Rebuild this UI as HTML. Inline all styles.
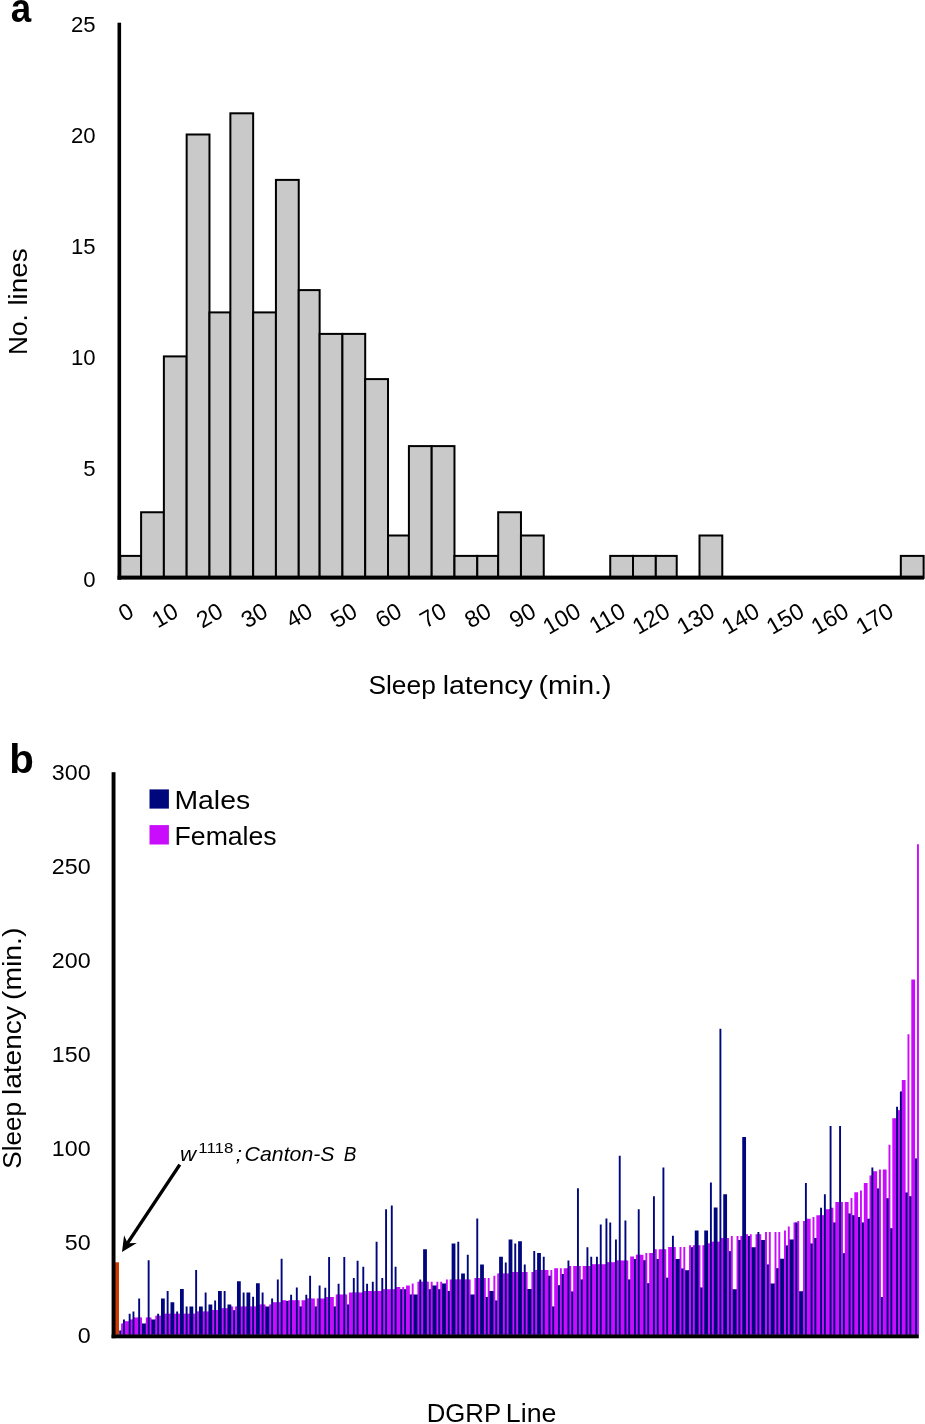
<!DOCTYPE html>
<html><head><meta charset="utf-8"><title>Figure</title>
<style>html,body{margin:0;padding:0;background:#fff;}body{width:925px;height:1424px;overflow:hidden;}svg{display:block;will-change:transform;}text{font-family:"Liberation Sans",sans-serif;fill:#000;}</style>
</head><body>
<svg width="925" height="1424" viewBox="0 0 925 1424">
<rect x="0" y="0" width="925" height="1424" fill="#ffffff"/>
<g id="panel-a">
<rect x="120.20" y="555.90" width="20.90" height="22.00" fill="#c9c9c9" stroke="#000" stroke-width="2"/>
<rect x="141.10" y="512.25" width="22.78" height="65.65" fill="#c9c9c9" stroke="#000" stroke-width="2"/>
<rect x="163.88" y="356.40" width="22.78" height="221.50" fill="#c9c9c9" stroke="#000" stroke-width="2"/>
<rect x="186.66" y="134.50" width="22.81" height="443.40" fill="#c9c9c9" stroke="#000" stroke-width="2"/>
<rect x="209.47" y="312.40" width="20.90" height="265.50" fill="#c9c9c9" stroke="#000" stroke-width="2"/>
<rect x="230.37" y="113.30" width="22.78" height="464.60" fill="#c9c9c9" stroke="#000" stroke-width="2"/>
<rect x="253.15" y="312.40" width="22.78" height="265.50" fill="#c9c9c9" stroke="#000" stroke-width="2"/>
<rect x="275.93" y="179.90" width="22.81" height="398.00" fill="#c9c9c9" stroke="#000" stroke-width="2"/>
<rect x="298.74" y="290.10" width="20.90" height="287.80" fill="#c9c9c9" stroke="#000" stroke-width="2"/>
<rect x="319.64" y="333.90" width="22.78" height="244.00" fill="#c9c9c9" stroke="#000" stroke-width="2"/>
<rect x="342.42" y="333.90" width="22.78" height="244.00" fill="#c9c9c9" stroke="#000" stroke-width="2"/>
<rect x="365.20" y="379.10" width="22.81" height="198.80" fill="#c9c9c9" stroke="#000" stroke-width="2"/>
<rect x="388.01" y="535.50" width="20.90" height="42.40" fill="#c9c9c9" stroke="#000" stroke-width="2"/>
<rect x="408.91" y="446.10" width="22.78" height="131.80" fill="#c9c9c9" stroke="#000" stroke-width="2"/>
<rect x="431.69" y="446.10" width="22.78" height="131.80" fill="#c9c9c9" stroke="#000" stroke-width="2"/>
<rect x="454.47" y="555.90" width="22.81" height="22.00" fill="#c9c9c9" stroke="#000" stroke-width="2"/>
<rect x="477.28" y="555.90" width="20.90" height="22.00" fill="#c9c9c9" stroke="#000" stroke-width="2"/>
<rect x="498.18" y="512.25" width="22.78" height="65.65" fill="#c9c9c9" stroke="#000" stroke-width="2"/>
<rect x="520.96" y="535.50" width="22.78" height="42.40" fill="#c9c9c9" stroke="#000" stroke-width="2"/>
<rect x="610.23" y="555.90" width="22.78" height="22.00" fill="#c9c9c9" stroke="#000" stroke-width="2"/>
<rect x="633.01" y="555.90" width="22.81" height="22.00" fill="#c9c9c9" stroke="#000" stroke-width="2"/>
<rect x="655.82" y="555.90" width="20.90" height="22.00" fill="#c9c9c9" stroke="#000" stroke-width="2"/>
<rect x="699.50" y="535.50" width="22.78" height="42.40" fill="#c9c9c9" stroke="#000" stroke-width="2"/>
<rect x="900.82" y="555.90" width="22.81" height="22.00" fill="#c9c9c9" stroke="#000" stroke-width="2"/>
<rect x="117.5" y="22.7" width="3.6" height="557" fill="#000"/>
<rect x="117.5" y="575.6" width="806.5" height="4" fill="#000"/>
<text transform="translate(95.6,587.1) scale(0.99,1)" font-size="22.4" text-anchor="end">0</text>
<text transform="translate(95.6,476.2) scale(0.99,1)" font-size="22.4" text-anchor="end">5</text>
<text transform="translate(95.6,365.2) scale(0.99,1)" font-size="22.4" text-anchor="end">10</text>
<text transform="translate(95.6,254.3) scale(0.99,1)" font-size="22.4" text-anchor="end">15</text>
<text transform="translate(95.6,143.3) scale(0.99,1)" font-size="22.4" text-anchor="end">20</text>
<text transform="translate(95.6,32.4) scale(0.99,1)" font-size="22.4" text-anchor="end">25</text>
<text transform="translate(135.4,615.8) rotate(-30)" font-size="23.3" text-anchor="end">0</text>
<text transform="translate(180.1,615.8) rotate(-30)" font-size="23.3" text-anchor="end">10</text>
<text transform="translate(224.8,615.8) rotate(-30)" font-size="23.3" text-anchor="end">20</text>
<text transform="translate(269.5,615.8) rotate(-30)" font-size="23.3" text-anchor="end">30</text>
<text transform="translate(314.2,615.8) rotate(-30)" font-size="23.3" text-anchor="end">40</text>
<text transform="translate(358.9,615.8) rotate(-30)" font-size="23.3" text-anchor="end">50</text>
<text transform="translate(403.6,615.8) rotate(-30)" font-size="23.3" text-anchor="end">60</text>
<text transform="translate(448.3,615.8) rotate(-30)" font-size="23.3" text-anchor="end">70</text>
<text transform="translate(493.0,615.8) rotate(-30)" font-size="23.3" text-anchor="end">80</text>
<text transform="translate(537.7,615.8) rotate(-30)" font-size="23.3" text-anchor="end">90</text>
<text transform="translate(582.4,615.8) rotate(-30)" font-size="23.3" text-anchor="end">100</text>
<text transform="translate(627.1,615.8) rotate(-30)" font-size="23.3" text-anchor="end">110</text>
<text transform="translate(671.8,615.8) rotate(-30)" font-size="23.3" text-anchor="end">120</text>
<text transform="translate(716.5,615.8) rotate(-30)" font-size="23.3" text-anchor="end">130</text>
<text transform="translate(761.2,615.8) rotate(-30)" font-size="23.3" text-anchor="end">140</text>
<text transform="translate(805.9,615.8) rotate(-30)" font-size="23.3" text-anchor="end">150</text>
<text transform="translate(850.6,615.8) rotate(-30)" font-size="23.3" text-anchor="end">160</text>
<text transform="translate(895.3,615.8) rotate(-30)" font-size="23.3" text-anchor="end">170</text>
<text transform="translate(368.48,694.40) scale(1.0526,1)" font-size="25">Sleep</text>
<text transform="translate(442.71,694.40) scale(1.1366,1)" font-size="25">latency</text>
<text transform="translate(538.59,694.40) scale(1.1407,1)" font-size="25">(min.)</text>
<g transform="translate(26.5,352.7) rotate(-90)"><text transform="translate(-2.27,0.00) scale(1.0070,1)" font-size="26">No.</text><text transform="translate(47.12,0.00) scale(1.0739,1)" font-size="26">lines</text></g>
<text transform="translate(10.78,21.60) scale(0.8966,1)" font-size="41" font-weight="bold">a</text>
</g>
<g id="panel-b">
<path fill="#ca0cfd" d="M120.50 1334.8v-4.3h1.2v4.3zM122.40 1334.8v-11.3h1.2v11.3zM124.30 1334.8v-13.5h1.2v13.5zM128.10 1334.8v-13.5h1.2v13.5zM130.00 1334.8v-15.2h1.2v15.2zM131.90 1334.8v-15.2h1.2v15.2zM133.80 1334.8v-17.3h1.2v17.3zM137.60 1334.8v-17.3h1.2v17.3zM139.49 1334.8v-17.3h1.2v17.3zM141.39 1334.8v-11.3h1.2v11.3zM145.19 1334.8v-11.3h1.2v11.3zM147.09 1334.8v-17.3h1.2v17.3zM148.99 1334.8v-17.3h1.2v17.3zM150.89 1334.8v-15.2h1.2v15.2zM154.69 1334.8v-15.2h1.2v15.2zM156.59 1334.8v-19.0h1.2v19.0zM158.49 1334.8v-19.0h1.2v19.0zM160.39 1334.8v-19.0h1.2v19.0zM164.19 1334.8v-21.0h1.2v21.0zM166.09 1334.8v-21.0h1.2v21.0zM167.99 1334.8v-21.0h1.2v21.0zM169.89 1334.8v-21.0h1.2v21.0zM173.69 1334.8v-21.0h1.2v21.0zM175.59 1334.8v-21.0h1.2v21.0zM177.49 1334.8v-21.0h1.2v21.0zM179.38 1334.8v-21.0h1.2v21.0zM183.18 1334.8v-21.0h1.2v21.0zM185.08 1334.8v-21.0h1.2v21.0zM186.98 1334.8v-21.0h1.2v21.0zM188.88 1334.8v-21.0h1.2v21.0zM192.68 1334.8v-21.0h1.2v21.0zM194.58 1334.8v-21.0h1.2v21.0zM196.48 1334.8v-23.3h1.2v23.3zM198.38 1334.8v-23.3h1.2v23.3zM202.18 1334.8v-23.3h1.2v23.3zM204.08 1334.8v-23.3h1.2v23.3zM205.98 1334.8v-23.3h1.2v23.3zM207.88 1334.8v-23.3h1.2v23.3zM211.68 1334.8v-24.8h1.2v24.8zM213.58 1334.8v-24.8h1.2v24.8zM215.48 1334.8v-24.8h1.2v24.8zM217.38 1334.8v-24.8h1.2v24.8zM221.17 1334.8v-26.5h1.2v26.5zM223.07 1334.8v-26.5h1.2v26.5zM224.97 1334.8v-26.5h1.2v26.5zM226.87 1334.8v-26.5h1.2v26.5zM230.67 1334.8v-28.3h1.2v28.3zM232.57 1334.8v-24.6h1.2v24.6zM234.47 1334.8v-24.6h1.2v24.6zM236.37 1334.8v-28.3h1.2v28.3zM240.17 1334.8v-28.3h1.2v28.3zM242.07 1334.8v-28.3h1.2v28.3zM243.97 1334.8v-28.3h1.2v28.3zM245.87 1334.8v-28.3h1.2v28.3zM249.67 1334.8v-28.3h1.2v28.3zM251.57 1334.8v-28.3h1.2v28.3zM253.47 1334.8v-28.3h1.2v28.3zM255.37 1334.8v-28.3h1.2v28.3zM259.16 1334.8v-30.2h1.2v30.2zM261.06 1334.8v-30.2h1.2v30.2zM262.96 1334.8v-30.2h1.2v30.2zM264.86 1334.8v-28.3h1.2v28.3zM268.66 1334.8v-28.3h1.2v28.3zM270.56 1334.8v-30.2h1.2v30.2zM272.46 1334.8v-32.5h1.2v32.5zM276.26 1334.8v-32.5h1.2v32.5zM278.16 1334.8v-32.5h1.2v32.5zM280.06 1334.8v-32.5h1.2v32.5zM281.96 1334.8v-34.5h1.2v34.5zM285.76 1334.8v-33.8h1.2v33.8zM287.66 1334.8v-33.8h1.2v33.8zM289.56 1334.8v-34.5h1.2v34.5zM291.46 1334.8v-34.5h1.2v34.5zM295.26 1334.8v-34.5h1.2v34.5zM297.16 1334.8v-34.5h1.2v34.5zM299.05 1334.8v-28.3h1.2v28.3zM300.95 1334.8v-28.3h1.2v28.3zM304.75 1334.8v-34.5h1.2v34.5zM306.65 1334.8v-36.2h1.2v36.2zM308.55 1334.8v-36.2h1.2v36.2zM310.45 1334.8v-36.4h1.2v36.4zM314.25 1334.8v-28.2h1.2v28.2zM316.15 1334.8v-28.2h1.2v28.2zM318.05 1334.8v-36.4h1.2v36.4zM319.95 1334.8v-36.4h1.2v36.4zM323.75 1334.8v-36.4h1.2v36.4zM325.65 1334.8v-37.9h1.2v37.9zM327.55 1334.8v-37.9h1.2v37.9zM329.45 1334.8v-37.9h1.2v37.9zM333.25 1334.8v-28.2h1.2v28.2zM335.15 1334.8v-28.2h1.2v28.2zM337.05 1334.8v-40.2h1.2v40.2zM338.94 1334.8v-40.2h1.2v40.2zM342.74 1334.8v-40.2h1.2v40.2zM344.64 1334.8v-40.2h1.2v40.2zM346.54 1334.8v-30.2h1.2v30.2zM348.44 1334.8v-30.2h1.2v30.2zM352.24 1334.8v-42.2h1.2v42.2zM354.14 1334.8v-42.2h1.2v42.2zM356.04 1334.8v-42.2h1.2v42.2zM357.94 1334.8v-42.2h1.2v42.2zM361.74 1334.8v-42.2h1.2v42.2zM363.64 1334.8v-43.9h1.2v43.9zM365.54 1334.8v-43.9h1.2v43.9zM367.44 1334.8v-43.9h1.2v43.9zM371.24 1334.8v-43.9h1.2v43.9zM373.14 1334.8v-43.9h1.2v43.9zM375.04 1334.8v-43.9h1.2v43.9zM376.94 1334.8v-43.9h1.2v43.9zM380.73 1334.8v-43.9h1.2v43.9zM382.63 1334.8v-45.6h1.2v45.6zM384.53 1334.8v-45.6h1.2v45.6zM386.43 1334.8v-45.6h1.2v45.6zM390.23 1334.8v-45.6h1.2v45.6zM392.13 1334.8v-45.6h1.2v45.6zM394.03 1334.8v-45.6h1.2v45.6zM395.93 1334.8v-47.7h1.2v47.7zM399.73 1334.8v-45.6h1.2v45.6zM401.63 1334.8v-45.6h1.2v45.6zM403.53 1334.8v-45.6h1.2v45.6zM405.43 1334.8v-45.6h1.2v45.6zM409.23 1334.8v-40.2h1.2v40.2zM411.13 1334.8v-40.2h1.2v40.2zM413.03 1334.8v-40.2h1.2v40.2zM416.83 1334.8v-40.2h1.2v40.2zM418.72 1334.8v-53.1h1.2v53.1zM420.62 1334.8v-53.1h1.2v53.1zM422.52 1334.8v-53.1h1.2v53.1zM426.32 1334.8v-53.1h1.2v53.1zM428.22 1334.8v-45.6h1.2v45.6zM430.12 1334.8v-45.6h1.2v45.6zM432.02 1334.8v-49.4h1.2v49.4zM435.82 1334.8v-49.4h1.2v49.4zM437.72 1334.8v-45.6h1.2v45.6zM439.62 1334.8v-45.6h1.2v45.6zM441.52 1334.8v-51.4h1.2v51.4zM445.32 1334.8v-51.4h1.2v51.4zM447.22 1334.8v-43.9h1.2v43.9zM449.12 1334.8v-43.9h1.2v43.9zM451.02 1334.8v-55.2h1.2v55.2zM454.82 1334.8v-55.2h1.2v55.2zM456.72 1334.8v-55.2h1.2v55.2zM458.61 1334.8v-55.2h1.2v55.2zM460.51 1334.8v-55.2h1.2v55.2zM464.31 1334.8v-55.2h1.2v55.2zM466.21 1334.8v-55.2h1.2v55.2zM468.11 1334.8v-55.2h1.2v55.2zM470.01 1334.8v-40.2h1.2v40.2zM473.81 1334.8v-40.2h1.2v40.2zM475.71 1334.8v-56.9h1.2v56.9zM477.61 1334.8v-56.9h1.2v56.9zM479.51 1334.8v-56.9h1.2v56.9zM483.31 1334.8v-56.9h1.2v56.9zM485.21 1334.8v-37.9h1.2v37.9zM487.11 1334.8v-37.9h1.2v37.9zM489.01 1334.8v-43.7h1.2v43.7zM492.81 1334.8v-43.7h1.2v43.7zM494.71 1334.8v-34.2h1.2v34.2zM496.61 1334.8v-34.2h1.2v34.2zM498.50 1334.8v-61.2h1.2v61.2zM502.30 1334.8v-61.2h1.2v61.2zM504.20 1334.8v-61.2h1.2v61.2zM506.10 1334.8v-61.2h1.2v61.2zM508.00 1334.8v-61.2h1.2v61.2zM511.80 1334.8v-62.7h1.2v62.7zM513.70 1334.8v-62.7h1.2v62.7zM515.60 1334.8v-62.7h1.2v62.7zM517.50 1334.8v-62.7h1.2v62.7zM521.30 1334.8v-62.7h1.2v62.7zM523.20 1334.8v-62.7h1.2v62.7zM525.10 1334.8v-62.7h1.2v62.7zM527.00 1334.8v-45.8h1.2v45.8zM530.80 1334.8v-45.8h1.2v45.8zM532.70 1334.8v-62.7h1.2v62.7zM534.60 1334.8v-64.8h1.2v64.8zM536.50 1334.8v-64.8h1.2v64.8zM540.29 1334.8v-64.8h1.2v64.8zM542.19 1334.8v-64.8h1.2v64.8zM544.09 1334.8v-64.8h1.2v64.8zM547.89 1334.8v-59.1h1.2v59.1zM549.79 1334.8v-59.1h1.2v59.1zM551.69 1334.8v-28.2h1.2v28.2zM553.59 1334.8v-28.2h1.2v28.2zM557.39 1334.8v-49.6h1.2v49.6zM559.29 1334.8v-49.6h1.2v49.6zM561.19 1334.8v-60.8h1.2v60.8zM563.09 1334.8v-60.8h1.2v60.8zM566.89 1334.8v-66.6h1.2v66.6zM568.79 1334.8v-68.7h1.2v68.7zM570.69 1334.8v-43.4h1.2v43.4zM572.59 1334.8v-43.4h1.2v43.4zM576.39 1334.8v-68.7h1.2v68.7zM578.29 1334.8v-68.7h1.2v68.7zM580.18 1334.8v-55.2h1.2v55.2zM582.08 1334.8v-55.2h1.2v55.2zM585.88 1334.8v-68.7h1.2v68.7zM587.78 1334.8v-68.7h1.2v68.7zM589.68 1334.8v-68.7h1.2v68.7zM591.58 1334.8v-70.6h1.2v70.6zM595.38 1334.8v-70.6h1.2v70.6zM597.28 1334.8v-70.6h1.2v70.6zM599.18 1334.8v-70.6h1.2v70.6zM601.08 1334.8v-70.6h1.2v70.6zM604.88 1334.8v-70.6h1.2v70.6zM606.78 1334.8v-72.5h1.2v72.5zM608.68 1334.8v-72.5h1.2v72.5zM610.58 1334.8v-72.5h1.2v72.5zM614.38 1334.8v-72.5h1.2v72.5zM616.28 1334.8v-74.3h1.2v74.3zM618.18 1334.8v-74.3h1.2v74.3zM620.07 1334.8v-74.3h1.2v74.3zM623.87 1334.8v-74.3h1.2v74.3zM625.77 1334.8v-74.3h1.2v74.3zM627.67 1334.8v-55.4h1.2v55.4zM629.57 1334.8v-55.4h1.2v55.4zM633.37 1334.8v-75.8h1.2v75.8zM635.27 1334.8v-75.8h1.2v75.8zM637.17 1334.8v-80.1h1.2v80.1zM639.07 1334.8v-80.1h1.2v80.1zM642.87 1334.8v-74.5h1.2v74.5zM644.77 1334.8v-74.5h1.2v74.5zM646.67 1334.8v-51.6h1.2v51.6zM648.57 1334.8v-51.6h1.2v51.6zM652.37 1334.8v-81.8h1.2v81.8zM654.27 1334.8v-85.6h1.2v85.6zM656.17 1334.8v-75.8h1.2v75.8zM658.07 1334.8v-75.8h1.2v75.8zM661.86 1334.8v-85.6h1.2v85.6zM663.76 1334.8v-85.6h1.2v85.6zM665.66 1334.8v-57.1h1.2v57.1zM667.56 1334.8v-57.1h1.2v57.1zM671.36 1334.8v-87.7h1.2v87.7zM673.26 1334.8v-87.7h1.2v87.7zM675.16 1334.8v-75.8h1.2v75.8zM678.96 1334.8v-75.8h1.2v75.8zM680.86 1334.8v-66.4h1.2v66.4zM682.76 1334.8v-66.4h1.2v66.4zM684.66 1334.8v-64.6h1.2v64.6zM688.46 1334.8v-64.6h1.2v64.6zM690.36 1334.8v-87.5h1.2v87.5zM692.26 1334.8v-87.5h1.2v87.5zM694.16 1334.8v-89.5h1.2v89.5zM697.96 1334.8v-89.5h1.2v89.5zM699.85 1334.8v-47.3h1.2v47.3zM701.75 1334.8v-47.3h1.2v47.3zM703.65 1334.8v-89.5h1.2v89.5zM707.45 1334.8v-91.2h1.2v91.2zM709.35 1334.8v-91.2h1.2v91.2zM711.25 1334.8v-93.1h1.2v93.1zM713.15 1334.8v-93.1h1.2v93.1zM716.95 1334.8v-93.1h1.2v93.1zM718.85 1334.8v-93.1h1.2v93.1zM720.75 1334.8v-96.9h1.2v96.9zM722.65 1334.8v-96.9h1.2v96.9zM726.45 1334.8v-96.9h1.2v96.9zM728.35 1334.8v-83.5h1.2v83.5zM730.25 1334.8v-83.5h1.2v83.5zM732.15 1334.8v-45.6h1.2v45.6zM735.95 1334.8v-45.6h1.2v45.6zM737.85 1334.8v-94.8h1.2v94.8zM739.74 1334.8v-94.8h1.2v94.8zM741.64 1334.8v-98.7h1.2v98.7zM745.44 1334.8v-100.6h1.2v100.6zM747.34 1334.8v-98.7h1.2v98.7zM749.24 1334.8v-98.7h1.2v98.7zM751.14 1334.8v-87.5h1.2v87.5zM754.94 1334.8v-87.5h1.2v87.5zM756.84 1334.8v-100.6h1.2v100.6zM758.74 1334.8v-100.6h1.2v100.6zM760.64 1334.8v-94.8h1.2v94.8zM764.44 1334.8v-94.8h1.2v94.8zM766.34 1334.8v-70.2h1.2v70.2zM768.24 1334.8v-70.2h1.2v70.2zM770.14 1334.8v-51.4h1.2v51.4zM773.94 1334.8v-51.4h1.2v51.4zM775.84 1334.8v-66.6h1.2v66.6zM777.74 1334.8v-66.6h1.2v66.6zM779.63 1334.8v-76.0h1.2v76.0zM783.43 1334.8v-76.0h1.2v76.0zM785.33 1334.8v-89.3h1.2v89.3zM787.23 1334.8v-89.3h1.2v89.3zM789.13 1334.8v-95.4h1.2v95.4zM792.93 1334.8v-95.4h1.2v95.4zM794.83 1334.8v-112.2h1.2v112.2zM796.73 1334.8v-112.2h1.2v112.2zM798.63 1334.8v-43.5h1.2v43.5zM802.43 1334.8v-43.5h1.2v43.5zM804.33 1334.8v-113.9h1.2v113.9zM806.23 1334.8v-116.0h1.2v116.0zM810.03 1334.8v-91.2h1.2v91.2zM811.93 1334.8v-91.2h1.2v91.2zM813.83 1334.8v-96.9h1.2v96.9zM815.73 1334.8v-96.9h1.2v96.9zM819.52 1334.8v-119.6h1.2v119.6zM821.42 1334.8v-119.6h1.2v119.6zM823.32 1334.8v-119.6h1.2v119.6zM825.22 1334.8v-125.6h1.2v125.6zM829.02 1334.8v-125.6h1.2v125.6zM830.92 1334.8v-127.1h1.2v127.1zM832.82 1334.8v-112.2h1.2v112.2zM834.72 1334.8v-112.2h1.2v112.2zM838.52 1334.8v-132.9h1.2v132.9zM840.42 1334.8v-132.9h1.2v132.9zM842.32 1334.8v-81.6h1.2v81.6zM844.22 1334.8v-81.6h1.2v81.6zM848.02 1334.8v-121.4h1.2v121.4zM849.92 1334.8v-121.4h1.2v121.4zM851.82 1334.8v-119.6h1.2v119.6zM853.72 1334.8v-119.6h1.2v119.6zM857.52 1334.8v-117.9h1.2v117.9zM859.41 1334.8v-117.9h1.2v117.9zM861.31 1334.8v-112.2h1.2v112.2zM863.21 1334.8v-112.2h1.2v112.2zM867.01 1334.8v-116.0h1.2v116.0zM868.91 1334.8v-116.0h1.2v116.0zM870.81 1334.8v-159.4h1.2v159.4zM872.71 1334.8v-163.5h1.2v163.5zM876.51 1334.8v-146.2h1.2v146.2zM878.41 1334.8v-146.2h1.2v146.2zM880.31 1334.8v-37.9h1.2v37.9zM882.21 1334.8v-37.9h1.2v37.9zM886.01 1334.8v-136.6h1.2v136.6zM887.91 1334.8v-136.6h1.2v136.6zM889.81 1334.8v-106.6h1.2v106.6zM891.71 1334.8v-106.6h1.2v106.6zM895.51 1334.8v-216.6h1.2v216.6zM897.41 1334.8v-224.5h1.2v224.5zM899.30 1334.8v-224.5h1.2v224.5zM901.20 1334.8v-243.3h1.2v243.3zM905.00 1334.8v-142.3h1.2v142.3zM906.90 1334.8v-142.3h1.2v142.3zM908.80 1334.8v-138.5h1.2v138.5zM910.70 1334.8v-138.5h1.2v138.5zM914.50 1334.8v-176.4h1.2v176.4zM916.40 1334.8v-176.4h1.2v176.4z"/>
<path fill="#ca0cfd" d="M121.10 1334.8v-11.3h1.90v11.3zM124.90 1334.8v-13.5h3.80v13.5zM130.60 1334.8v-15.2h1.90v15.2zM134.40 1334.8v-17.3h3.80v17.3zM140.09 1334.8v-17.3h1.90v17.3zM145.79 1334.8v-17.3h1.90v17.3zM149.59 1334.8v-17.3h1.90v17.3zM155.29 1334.8v-19.0h1.90v19.0zM159.09 1334.8v-19.0h1.90v19.0zM164.79 1334.8v-21.0h1.90v21.0zM168.59 1334.8v-21.0h1.90v21.0zM174.29 1334.8v-21.0h1.90v21.0zM178.09 1334.8v-21.0h1.90v21.0zM183.78 1334.8v-21.0h1.90v21.0zM187.58 1334.8v-21.0h1.90v21.0zM193.28 1334.8v-21.0h1.90v21.0zM197.08 1334.8v-23.3h1.90v23.3zM202.78 1334.8v-23.3h1.90v23.3zM206.58 1334.8v-23.3h1.90v23.3zM212.28 1334.8v-24.8h1.90v24.8zM216.08 1334.8v-24.8h1.90v24.8zM221.77 1334.8v-26.5h1.90v26.5zM225.57 1334.8v-26.5h1.90v26.5zM231.27 1334.8v-28.3h1.90v28.3zM235.07 1334.8v-28.3h1.90v28.3zM240.77 1334.8v-28.3h1.90v28.3zM244.57 1334.8v-28.3h1.90v28.3zM250.27 1334.8v-28.3h1.90v28.3zM254.07 1334.8v-28.3h1.90v28.3zM259.76 1334.8v-30.2h1.90v30.2zM263.56 1334.8v-30.2h1.90v30.2zM269.26 1334.8v-30.2h1.90v30.2zM273.06 1334.8v-32.5h3.80v32.5zM278.76 1334.8v-32.5h1.90v32.5zM282.56 1334.8v-34.5h3.80v34.5zM288.26 1334.8v-34.5h1.90v34.5zM292.06 1334.8v-34.5h3.80v34.5zM297.76 1334.8v-34.5h1.90v34.5zM301.55 1334.8v-34.5h3.80v34.5zM307.25 1334.8v-36.2h1.90v36.2zM311.05 1334.8v-36.4h3.80v36.4zM316.75 1334.8v-36.4h1.90v36.4zM320.55 1334.8v-36.4h3.80v36.4zM326.25 1334.8v-37.9h1.90v37.9zM330.05 1334.8v-37.9h3.80v37.9zM335.75 1334.8v-40.2h1.90v40.2zM339.54 1334.8v-40.2h3.80v40.2zM345.24 1334.8v-40.2h1.90v40.2zM349.04 1334.8v-42.2h3.80v42.2zM354.74 1334.8v-42.2h1.90v42.2zM358.54 1334.8v-42.2h3.80v42.2zM364.24 1334.8v-43.9h1.90v43.9zM368.04 1334.8v-43.9h3.80v43.9zM373.74 1334.8v-43.9h1.90v43.9zM377.54 1334.8v-43.9h3.80v43.9zM383.23 1334.8v-45.6h1.90v45.6zM387.03 1334.8v-45.6h3.80v45.6zM392.73 1334.8v-45.6h1.90v45.6zM396.53 1334.8v-47.7h3.80v47.7zM402.23 1334.8v-47.7h1.90v47.7zM406.03 1334.8v-49.4h3.80v49.4zM411.73 1334.8v-51.4h1.90v51.4zM417.43 1334.8v-53.1h1.90v53.1zM421.22 1334.8v-53.1h1.90v53.1zM426.92 1334.8v-53.1h1.90v53.1zM430.72 1334.8v-53.1h1.90v53.1zM436.42 1334.8v-53.1h1.90v53.1zM440.22 1334.8v-53.1h1.90v53.1zM445.92 1334.8v-55.2h1.90v55.2zM449.72 1334.8v-55.2h1.90v55.2zM455.42 1334.8v-55.2h1.90v55.2zM459.21 1334.8v-55.2h1.90v55.2zM464.91 1334.8v-55.2h1.90v55.2zM468.71 1334.8v-55.2h1.90v55.2zM474.41 1334.8v-56.9h1.90v56.9zM478.21 1334.8v-56.9h1.90v56.9zM483.91 1334.8v-56.9h1.90v56.9zM487.71 1334.8v-56.9h1.90v56.9zM493.41 1334.8v-59.1h1.90v59.1zM497.21 1334.8v-61.2h1.90v61.2zM502.90 1334.8v-61.2h1.90v61.2zM506.70 1334.8v-61.2h1.90v61.2zM512.40 1334.8v-62.7h1.90v62.7zM516.20 1334.8v-62.7h1.90v62.7zM521.90 1334.8v-62.7h1.90v62.7zM525.70 1334.8v-62.7h1.90v62.7zM531.40 1334.8v-62.7h1.90v62.7zM535.20 1334.8v-64.8h1.90v64.8zM540.89 1334.8v-64.8h1.90v64.8zM544.69 1334.8v-64.8h3.80v64.8zM550.39 1334.8v-64.8h1.90v64.8zM554.19 1334.8v-66.6h3.80v66.6zM559.89 1334.8v-66.6h1.90v66.6zM563.69 1334.8v-66.6h3.80v66.6zM569.39 1334.8v-68.7h1.90v68.7zM573.19 1334.8v-68.7h3.80v68.7zM578.89 1334.8v-68.7h1.90v68.7zM582.68 1334.8v-68.7h3.80v68.7zM588.38 1334.8v-68.7h1.90v68.7zM592.18 1334.8v-70.6h3.80v70.6zM597.88 1334.8v-70.6h1.90v70.6zM601.68 1334.8v-70.6h3.80v70.6zM607.38 1334.8v-72.5h1.90v72.5zM611.18 1334.8v-72.5h3.80v72.5zM616.88 1334.8v-74.3h1.90v74.3zM620.67 1334.8v-74.3h3.80v74.3zM626.37 1334.8v-74.3h1.90v74.3zM630.17 1334.8v-78.3h3.80v78.3zM635.87 1334.8v-80.1h1.90v80.1zM639.67 1334.8v-80.1h3.80v80.1zM645.37 1334.8v-81.8h1.90v81.8zM649.17 1334.8v-81.8h3.80v81.8zM654.87 1334.8v-85.6h1.90v85.6zM658.67 1334.8v-85.6h3.80v85.6zM664.36 1334.8v-85.6h1.90v85.6zM668.16 1334.8v-87.7h3.80v87.7zM673.86 1334.8v-87.7h1.90v87.7zM679.56 1334.8v-87.7h1.90v87.7zM683.36 1334.8v-87.7h1.90v87.7zM689.06 1334.8v-89.5h1.90v89.5zM692.86 1334.8v-89.5h1.90v89.5zM698.56 1334.8v-89.5h1.90v89.5zM702.35 1334.8v-89.5h1.90v89.5zM708.05 1334.8v-91.2h1.90v91.2zM711.85 1334.8v-93.1h1.90v93.1zM717.55 1334.8v-93.1h1.90v93.1zM721.35 1334.8v-96.9h1.90v96.9zM727.05 1334.8v-96.9h1.90v96.9zM730.85 1334.8v-98.7h1.90v98.7zM736.55 1334.8v-98.7h1.90v98.7zM740.34 1334.8v-98.7h1.90v98.7zM746.04 1334.8v-100.6h1.90v100.6zM749.84 1334.8v-100.6h1.90v100.6zM755.54 1334.8v-100.6h1.90v100.6zM759.34 1334.8v-100.6h1.90v100.6zM765.04 1334.8v-102.7h1.90v102.7zM768.84 1334.8v-102.7h1.90v102.7zM774.54 1334.8v-102.7h1.90v102.7zM778.34 1334.8v-102.7h1.90v102.7zM784.03 1334.8v-104.4h1.90v104.4zM787.83 1334.8v-108.3h1.90v108.3zM793.53 1334.8v-112.2h1.90v112.2zM797.33 1334.8v-113.9h1.90v113.9zM803.03 1334.8v-113.9h1.90v113.9zM806.83 1334.8v-116.0h3.80v116.0zM812.53 1334.8v-117.9h1.90v117.9zM816.33 1334.8v-119.6h3.80v119.6zM822.02 1334.8v-119.6h1.90v119.6zM825.82 1334.8v-125.6h3.80v125.6zM831.52 1334.8v-127.1h1.90v127.1zM835.32 1334.8v-132.9h3.80v132.9zM841.02 1334.8v-132.9h1.90v132.9zM844.82 1334.8v-132.9h3.80v132.9zM850.52 1334.8v-136.8h1.90v136.8zM854.32 1334.8v-142.5h3.80v142.5zM860.01 1334.8v-144.3h1.90v144.3zM863.81 1334.8v-151.8h3.80v151.8zM869.51 1334.8v-159.4h1.90v159.4zM873.31 1334.8v-163.5h3.80v163.5zM879.01 1334.8v-165.2h1.90v165.2zM882.81 1334.8v-165.2h3.80v165.2zM888.51 1334.8v-190.1h1.90v190.1zM892.31 1334.8v-216.6h3.80v216.6zM898.01 1334.8v-224.5h1.90v224.5zM901.80 1334.8v-254.9h3.80v254.9zM907.50 1334.8v-300.5h1.90v300.5zM911.30 1334.8v-355.3h3.80v355.3zM917.00 1334.8v-490.5h1.90v490.5z"/>
<path fill="#00067c" d="M119.20 1334.8v-4.3h1.90v4.3zM123.00 1334.8v-15.2h1.90v15.2zM128.70 1334.8v-21.0h1.90v21.0zM132.50 1334.8v-23.3h1.90v23.3zM138.20 1334.8v-36.2h1.90v36.2zM141.99 1334.8v-11.3h3.80v11.3zM147.69 1334.8v-74.5h1.90v74.5zM151.49 1334.8v-15.2h3.80v15.2zM157.19 1334.8v-21.0h1.90v21.0zM160.99 1334.8v-36.2h3.80v36.2zM166.69 1334.8v-43.7h1.90v43.7zM170.49 1334.8v-32.5h3.80v32.5zM176.19 1334.8v-23.3h1.90v23.3zM179.98 1334.8v-45.8h3.80v45.8zM185.68 1334.8v-28.3h1.90v28.3zM189.48 1334.8v-28.3h3.80v28.3zM195.18 1334.8v-64.9h1.90v64.9zM198.98 1334.8v-28.3h3.80v28.3zM204.68 1334.8v-42.2h1.90v42.2zM208.48 1334.8v-30.2h3.80v30.2zM214.18 1334.8v-34.3h1.90v34.3zM217.98 1334.8v-43.7h3.80v43.7zM223.67 1334.8v-43.7h1.90v43.7zM227.47 1334.8v-30.2h3.80v30.2zM233.17 1334.8v-24.6h1.90v24.6zM236.97 1334.8v-53.5h3.80v53.5zM242.67 1334.8v-42.2h1.90v42.2zM246.47 1334.8v-42.2h3.80v42.2zM252.17 1334.8v-38.1h1.90v38.1zM255.97 1334.8v-51.6h3.80v51.6zM261.66 1334.8v-42.2h1.90v42.2zM265.46 1334.8v-28.3h3.80v28.3zM271.16 1334.8v-36.2h1.90v36.2zM276.86 1334.8v-55.2h1.90v55.2zM280.66 1334.8v-76.0h1.90v76.0zM286.36 1334.8v-33.8h1.90v33.8zM290.16 1334.8v-40.0h1.90v40.0zM295.86 1334.8v-47.3h1.90v47.3zM299.65 1334.8v-28.3h1.90v28.3zM305.35 1334.8v-40.0h1.90v40.0zM309.15 1334.8v-59.1h1.90v59.1zM314.85 1334.8v-28.2h1.90v28.2zM318.65 1334.8v-49.4h1.90v49.4zM324.35 1334.8v-47.1h1.90v47.1zM328.15 1334.8v-77.9h1.90v77.9zM333.85 1334.8v-28.2h1.90v28.2zM337.65 1334.8v-51.1h1.90v51.1zM343.34 1334.8v-77.9h1.90v77.9zM347.14 1334.8v-30.2h1.90v30.2zM352.84 1334.8v-56.9h1.90v56.9zM356.64 1334.8v-74.1h1.90v74.1zM362.34 1334.8v-68.1h1.90v68.1zM366.14 1334.8v-51.1h1.90v51.1zM371.84 1334.8v-53.1h1.90v53.1zM375.64 1334.8v-93.1h1.90v93.1zM381.33 1334.8v-56.9h1.90v56.9zM385.13 1334.8v-125.6h1.90v125.6zM390.83 1334.8v-129.3h1.90v129.3zM394.63 1334.8v-68.1h1.90v68.1zM400.33 1334.8v-45.6h1.90v45.6zM404.13 1334.8v-45.6h1.90v45.6zM409.83 1334.8v-40.2h1.90v40.2zM413.63 1334.8v-40.2h3.80v40.2zM419.32 1334.8v-55.2h1.90v55.2zM423.12 1334.8v-85.6h3.80v85.6zM428.82 1334.8v-45.6h1.90v45.6zM432.62 1334.8v-49.4h3.80v49.4zM438.32 1334.8v-45.6h1.90v45.6zM442.12 1334.8v-51.4h3.80v51.4zM447.82 1334.8v-43.9h1.90v43.9zM451.62 1334.8v-91.2h3.80v91.2zM457.32 1334.8v-93.1h1.90v93.1zM461.11 1334.8v-61.2h3.80v61.2zM466.81 1334.8v-80.1h1.90v80.1zM470.61 1334.8v-40.2h3.80v40.2zM476.31 1334.8v-116.4h1.90v116.4zM480.11 1334.8v-70.4h3.80v70.4zM485.81 1334.8v-37.9h1.90v37.9zM489.61 1334.8v-43.7h3.80v43.7zM495.31 1334.8v-34.2h1.90v34.2zM499.10 1334.8v-78.1h3.80v78.1zM504.80 1334.8v-72.3h1.90v72.3zM508.60 1334.8v-95.4h3.80v95.4zM514.30 1334.8v-91.4h1.90v91.4zM518.10 1334.8v-93.5h3.80v93.5zM523.80 1334.8v-70.4h1.90v70.4zM527.60 1334.8v-45.8h3.80v45.8zM533.30 1334.8v-83.9h1.90v83.9zM537.10 1334.8v-81.8h3.80v81.8zM542.79 1334.8v-78.1h1.90v78.1zM548.49 1334.8v-59.1h1.90v59.1zM552.29 1334.8v-28.2h1.90v28.2zM557.99 1334.8v-49.6h1.90v49.6zM561.79 1334.8v-60.8h1.90v60.8zM567.49 1334.8v-74.3h1.90v74.3zM571.29 1334.8v-43.4h1.90v43.4zM576.99 1334.8v-146.6h1.90v146.6zM580.78 1334.8v-55.2h1.90v55.2zM586.48 1334.8v-87.5h1.90v87.5zM590.28 1334.8v-78.1h1.90v78.1zM595.98 1334.8v-78.1h1.90v78.1zM599.78 1334.8v-110.2h1.90v110.2zM605.48 1334.8v-116.2h1.90v116.2zM609.28 1334.8v-112.2h1.90v112.2zM614.98 1334.8v-95.2h1.90v95.2zM618.78 1334.8v-179.1h1.90v179.1zM624.47 1334.8v-114.3h1.90v114.3zM628.27 1334.8v-55.4h1.90v55.4zM633.97 1334.8v-75.8h1.90v75.8zM637.77 1334.8v-125.6h1.90v125.6zM643.47 1334.8v-74.5h1.90v74.5zM647.27 1334.8v-51.6h1.90v51.6zM652.97 1334.8v-138.5h1.90v138.5zM656.77 1334.8v-75.8h1.90v75.8zM662.46 1334.8v-167.2h1.90v167.2zM666.26 1334.8v-57.1h1.90v57.1zM671.96 1334.8v-99.1h1.90v99.1zM675.76 1334.8v-75.8h3.80v75.8zM681.46 1334.8v-66.4h1.90v66.4zM685.26 1334.8v-64.6h3.80v64.6zM690.96 1334.8v-87.5h1.90v87.5zM694.76 1334.8v-104.4h3.80v104.4zM700.45 1334.8v-47.3h1.90v47.3zM704.25 1334.8v-104.4h3.80v104.4zM709.95 1334.8v-152.4h1.90v152.4zM713.75 1334.8v-127.3h3.80v127.3zM719.45 1334.8v-306.1h1.90v306.1zM723.25 1334.8v-140.6h3.80v140.6zM728.95 1334.8v-83.5h1.90v83.5zM732.75 1334.8v-45.6h3.80v45.6zM738.45 1334.8v-94.8h1.90v94.8zM742.24 1334.8v-197.8h3.80v197.8zM747.94 1334.8v-98.7h1.90v98.7zM751.74 1334.8v-87.5h3.80v87.5zM757.44 1334.8v-102.7h1.90v102.7zM761.24 1334.8v-94.8h3.80v94.8zM766.94 1334.8v-70.2h1.90v70.2zM770.74 1334.8v-51.4h3.80v51.4zM776.44 1334.8v-66.6h1.90v66.6zM780.23 1334.8v-76.0h3.80v76.0zM785.93 1334.8v-89.3h1.90v89.3zM789.73 1334.8v-95.4h3.80v95.4zM795.43 1334.8v-112.2h1.90v112.2zM799.23 1334.8v-43.5h3.80v43.5zM804.93 1334.8v-151.8h1.90v151.8zM810.63 1334.8v-91.2h1.90v91.2zM814.43 1334.8v-96.9h1.90v96.9zM820.12 1334.8v-127.1h1.90v127.1zM823.92 1334.8v-140.6h1.90v140.6zM829.62 1334.8v-208.9h1.90v208.9zM833.42 1334.8v-112.2h1.90v112.2zM839.12 1334.8v-208.9h1.90v208.9zM842.92 1334.8v-81.6h1.90v81.6zM848.62 1334.8v-121.4h1.90v121.4zM852.42 1334.8v-119.6h1.90v119.6zM858.12 1334.8v-117.9h1.90v117.9zM861.91 1334.8v-112.2h1.90v112.2zM867.61 1334.8v-116.0h1.90v116.0zM871.41 1334.8v-167.2h1.90v167.2zM877.11 1334.8v-146.2h1.90v146.2zM880.91 1334.8v-37.9h1.90v37.9zM886.61 1334.8v-136.6h1.90v136.6zM890.41 1334.8v-106.6h1.90v106.6zM896.11 1334.8v-228.1h1.90v228.1zM899.90 1334.8v-243.3h1.90v243.3zM905.60 1334.8v-142.3h1.90v142.3zM909.40 1334.8v-138.5h1.90v138.5zM915.10 1334.8v-176.4h1.90v176.4z"/>
<rect x="114" y="1262.3" width="5" height="72.5" fill="#cc3a00"/>
<rect x="111.6" y="772.2" width="3.9" height="566" fill="#000"/>
<rect x="111.6" y="1334.4" width="807.2" height="3.9" fill="#000"/>
<text transform="translate(90.6,1343.3) scale(1.035,1)" font-size="22.5" text-anchor="end">0</text>
<text transform="translate(90.6,1249.5) scale(1.035,1)" font-size="22.5" text-anchor="end">50</text>
<text transform="translate(90.6,1155.6) scale(1.035,1)" font-size="22.5" text-anchor="end">100</text>
<text transform="translate(90.6,1061.8) scale(1.035,1)" font-size="22.5" text-anchor="end">150</text>
<text transform="translate(90.6,967.9) scale(1.035,1)" font-size="22.5" text-anchor="end">200</text>
<text transform="translate(90.6,874.1) scale(1.035,1)" font-size="22.5" text-anchor="end">250</text>
<text transform="translate(90.6,780.2) scale(1.035,1)" font-size="22.5" text-anchor="end">300</text>
<rect x="149.5" y="789.4" width="19.4" height="19.2" fill="#00067c"/>
<rect x="149.5" y="825.1" width="19.4" height="19.4" fill="#ca0cfd"/>
<text transform="translate(174.40,808.80) scale(1.0672,1)" font-size="26.6">Males</text>
<text transform="translate(174.55,844.50) scale(1.0015,1)" font-size="26.6">Females</text>
<text transform="translate(180.12,1160.70) scale(1.0847,1)" font-size="20.5" font-style="italic">w</text>
<text transform="translate(198.27,1153.20) scale(1.1409,1)" font-size="14.8">1118</text>
<text transform="translate(235.66,1160.70) scale(1.0889,1)" font-size="20.5" font-style="italic">;</text>
<text transform="translate(244.60,1160.70) scale(1.0388,1)" font-size="20.5" font-style="italic">Canton-S</text>
<text transform="translate(343.81,1160.70) scale(0.9224,1)" font-size="20.5" font-style="italic">B</text>
<line x1="179.8" y1="1164.6" x2="127.2" y2="1243.6" stroke="#000" stroke-width="3.4"/>
<path d="M122 1251.9 L124.1 1235.3 L127.6 1243.3 L136.8 1243.1 Z" fill="#000"/>
<text transform="translate(426.74,1422.30) scale(1.0304,1)" font-size="25">DGRP</text>
<text transform="translate(505.86,1422.30) scale(1.0689,1)" font-size="25">Line</text>
<g transform="translate(21.2,1167.5) rotate(-90)"><text transform="translate(-1.28,0.00) scale(1.0240,1)" font-size="25.5">Sleep</text><text transform="translate(72.41,0.00) scale(1.1031,1)" font-size="25.5">latency</text><text transform="translate(167.56,0.00) scale(1.1094,1)" font-size="25.5">(min.)</text></g>
<text transform="translate(9.33,772.80) scale(0.9714,1)" font-size="41.5" font-weight="bold">b</text>
</g>
</svg>
</body></html>
